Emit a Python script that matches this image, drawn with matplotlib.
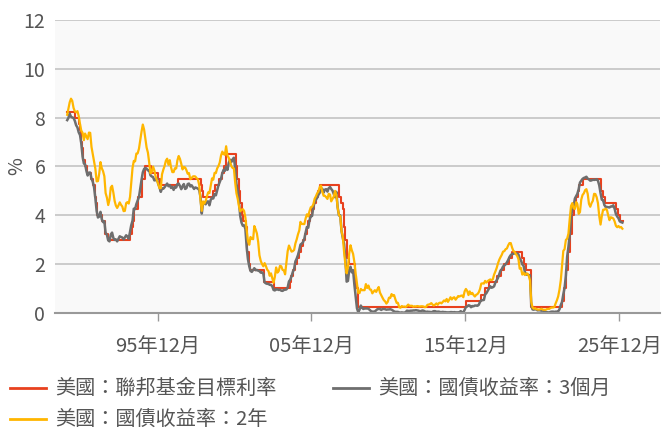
import matplotlib
matplotlib.use("Agg")
import matplotlib.pyplot as plt
from matplotlib.lines import Line2D
import pandas as pd
from datetime import datetime

plt.rcParams['font.family'] = ['Noto Sans CJK TC', 'DejaVu Sans']
plt.rcParams['font.weight'] = 300

# Fed funds target rate (upper bound): change date -> level
ff_dates = [
    '1990-01-01', '1990-07-13', '1990-10-29', '1990-11-13', '1990-12-07', '1990-12-19',
    '1991-01-09', '1991-02-01', '1991-03-08', '1991-04-30', '1991-08-06', '1991-09-13',
    '1991-10-31', '1991-11-06', '1991-12-06', '1991-12-20', '1992-04-09', '1992-07-02',
    '1992-09-04', '1994-02-04', '1994-03-22', '1994-04-18', '1994-05-17', '1994-08-16',
    '1994-11-15', '1995-02-01', '1995-07-06', '1995-12-19', '1996-01-31', '1997-03-25',
    '1998-09-29', '1998-10-15', '1998-11-17', '1999-06-30', '1999-08-24', '1999-11-16',
    '2000-02-02', '2000-03-21', '2000-05-16', '2001-01-03', '2001-01-31', '2001-03-20',
    '2001-04-18', '2001-05-15', '2001-06-27', '2001-08-21', '2001-09-17', '2001-10-02',
    '2001-11-06', '2001-12-11', '2002-11-06', '2003-06-25', '2004-06-30', '2004-08-10',
    '2004-09-21', '2004-11-10', '2004-12-14', '2005-02-02', '2005-03-22', '2005-05-03',
    '2005-06-30', '2005-08-09', '2005-09-20', '2005-11-01', '2005-12-13', '2006-01-31',
    '2006-03-28', '2006-05-10', '2006-06-29', '2007-09-18', '2007-10-31', '2007-12-11',
    '2008-01-22', '2008-01-30', '2008-03-18', '2008-04-30', '2008-10-08', '2008-10-29',
    '2008-12-16', '2015-12-17', '2016-12-15', '2017-03-16', '2017-06-15', '2017-12-14',
    '2018-03-22', '2018-06-14', '2018-09-27', '2018-12-20', '2019-08-01', '2019-09-19',
    '2019-10-31', '2020-03-04', '2020-03-16', '2022-03-17', '2022-05-05', '2022-06-16',
    '2022-07-28', '2022-09-22', '2022-11-03', '2022-12-15', '2023-02-02', '2023-03-23',
    '2023-05-04', '2023-07-27', '2024-09-19', '2024-11-08', '2024-12-19', '2025-09-18',
    '2025-10-30', '2025-12-11', '2026-02-27',
]
ff_rate = [
    8.25, 8.00, 7.75, 7.50, 7.25, 7.00,
    6.75, 6.25, 6.00, 5.75, 5.50, 5.25,
    5.00, 4.75, 4.50, 4.00, 3.75, 3.25,
    3.00, 3.25, 3.50, 3.75, 4.25, 4.75,
    5.50, 6.00, 5.75, 5.50, 5.25, 5.50,
    5.25, 5.00, 4.75, 5.00, 5.25, 5.50,
    5.75, 6.00, 6.50, 6.00, 5.50, 5.00,
    4.50, 4.00, 3.75, 3.50, 3.00, 2.50,
    2.00, 1.75, 1.25, 1.00, 1.25, 1.50,
    1.75, 2.00, 2.25, 2.50, 2.75, 3.00,
    3.25, 3.50, 3.75, 4.00, 4.25, 4.50,
    4.75, 5.00, 5.25, 4.75, 4.50, 4.25,
    3.50, 3.00, 2.25, 2.00, 1.50, 1.00,
    0.25, 0.50, 0.75, 1.00, 1.25, 1.50,
    1.75, 2.00, 2.25, 2.50, 2.25, 2.00,
    1.75, 1.25, 0.25, 0.50, 1.00, 1.75,
    2.50, 3.25, 4.00, 4.50, 4.75, 5.00,
    5.25, 5.50, 5.00, 4.75, 4.50, 4.25,
    4.00, 3.75, 3.75,
]

# monthly yields, Jan 1990 - Feb 2026 (one row per year)
t3m = [
    7.90, 8.00, 8.17, 8.04, 8.01, 7.99, 7.87, 7.69, 7.60, 7.40, 7.29, 6.95,
    6.41, 6.12, 6.09, 5.83, 5.63, 5.75, 5.75, 5.50, 5.37, 5.14, 4.69, 4.18,
    3.91, 3.95, 4.14, 3.84, 3.72, 3.75, 3.28, 3.20, 2.97, 2.93, 3.21, 3.29,
    3.07, 2.99, 3.01, 2.93, 3.03, 3.14, 3.11, 3.09, 3.01, 3.09, 3.18, 3.13,
    3.04, 3.33, 3.59, 3.78, 4.27, 4.25, 4.46, 4.61, 4.75, 5.10, 5.45, 5.76,
    5.90, 5.94, 5.91, 5.84, 5.85, 5.64, 5.59, 5.57, 5.43, 5.44, 5.52, 5.29,
    5.15, 4.96, 5.10, 5.09, 5.15, 5.23, 5.30, 5.19, 5.24, 5.12, 5.17, 5.04,
    5.17, 5.14, 5.28, 5.30, 5.20, 5.07, 5.19, 5.28, 5.08, 5.11, 5.28, 5.30,
    5.18, 5.23, 5.16, 5.08, 5.14, 5.12, 5.09, 5.04, 4.74, 4.07, 4.53, 4.50,
    4.45, 4.56, 4.57, 4.41, 4.63, 4.72, 4.69, 4.87, 4.82, 5.02, 5.23, 5.36,
    5.50, 5.73, 5.86, 5.82, 5.99, 5.86, 6.14, 6.28, 6.18, 6.29, 6.36, 5.94,
    5.29, 5.01, 4.54, 3.97, 3.70, 3.57, 3.59, 3.44, 2.69, 2.20, 1.91, 1.72,
    1.68, 1.76, 1.83, 1.75, 1.76, 1.73, 1.71, 1.65, 1.66, 1.61, 1.25, 1.21,
    1.19, 1.19, 1.15, 1.15, 1.09, 0.94, 0.92, 0.97, 0.96, 0.94, 0.95, 0.91,
    0.90, 0.94, 0.95, 0.96, 1.04, 1.29, 1.36, 1.50, 1.68, 1.79, 2.11, 2.22,
    2.37, 2.58, 2.80, 2.84, 2.90, 3.04, 3.29, 3.52, 3.49, 3.79, 3.97, 3.97,
    4.34, 4.54, 4.63, 4.72, 4.84, 4.92, 5.08, 5.09, 4.93, 5.05, 5.07, 4.97,
    5.11, 5.16, 5.08, 5.01, 4.87, 4.74, 4.96, 4.32, 3.99, 4.00, 3.35, 3.07,
    2.82, 2.17, 1.28, 1.31, 1.76, 1.89, 1.66, 1.75, 1.15, 0.69, 0.19, 0.03,
    0.13, 0.30, 0.21, 0.16, 0.18, 0.18, 0.18, 0.17, 0.12, 0.07, 0.05, 0.05,
    0.06, 0.11, 0.15, 0.16, 0.16, 0.12, 0.16, 0.16, 0.15, 0.13, 0.14, 0.14,
    0.15, 0.13, 0.10, 0.06, 0.04, 0.04, 0.04, 0.02, 0.01, 0.02, 0.01, 0.01,
    0.03, 0.09, 0.08, 0.08, 0.09, 0.09, 0.10, 0.10, 0.11, 0.10, 0.09, 0.07,
    0.07, 0.10, 0.09, 0.06, 0.04, 0.05, 0.04, 0.04, 0.02, 0.05, 0.07, 0.07,
    0.04, 0.05, 0.05, 0.03, 0.03, 0.04, 0.03, 0.03, 0.02, 0.02, 0.02, 0.03,
    0.03, 0.02, 0.03, 0.02, 0.02, 0.02, 0.03, 0.07, 0.02, 0.02, 0.12, 0.24,
    0.26, 0.31, 0.30, 0.23, 0.28, 0.27, 0.30, 0.30, 0.29, 0.33, 0.45, 0.51,
    0.52, 0.53, 0.75, 0.81, 0.90, 1.00, 1.09, 1.03, 1.05, 1.09, 1.25, 1.34,
    1.43, 1.59, 1.73, 1.79, 1.90, 1.94, 1.99, 2.07, 2.17, 2.29, 2.37, 2.41,
    2.42, 2.44, 2.45, 2.43, 2.40, 2.22, 2.15, 1.99, 1.93, 1.68, 1.57, 1.57,
    1.55, 1.54, 0.30, 0.14, 0.13, 0.16, 0.13, 0.10, 0.11, 0.10, 0.09, 0.09,
    0.08, 0.04, 0.03, 0.02, 0.02, 0.04, 0.05, 0.05, 0.04, 0.05, 0.05, 0.06,
    0.15, 0.33, 0.44, 0.76, 1.02, 1.52, 2.30, 2.71, 3.22, 3.87, 4.32, 4.36,
    4.69, 4.79, 4.88, 5.07, 5.34, 5.42, 5.49, 5.53, 5.55, 5.58, 5.50, 5.47,
    5.42, 5.43, 5.46, 5.45, 5.46, 5.48, 5.42, 5.23, 4.91, 4.64, 4.62, 4.42,
    4.34, 4.34, 4.33, 4.32, 4.36, 4.36, 4.41, 4.27, 4.05, 3.95, 3.88, 3.75,
    3.72, 3.70,
]

t2y = [
    8.12, 8.39, 8.63, 8.78, 8.69, 8.40, 8.26, 8.22, 8.27, 8.07, 7.74, 7.47,
    7.38, 7.08, 7.35, 7.23, 7.12, 7.39, 7.38, 6.80, 6.50, 6.23, 5.90, 5.39,
    5.40, 5.72, 6.18, 5.93, 5.81, 5.60, 4.91, 4.72, 4.42, 4.64, 5.14, 5.21,
    4.93, 4.58, 4.40, 4.30, 4.40, 4.53, 4.43, 4.36, 4.17, 4.18, 4.50, 4.54,
    4.48, 4.76, 5.30, 5.94, 6.23, 6.21, 6.53, 6.54, 6.73, 7.07, 7.43, 7.72,
    7.51, 7.11, 6.78, 6.57, 6.17, 5.72, 5.78, 6.00, 5.84, 5.59, 5.43, 5.29,
    5.11, 5.11, 5.68, 5.87, 6.02, 6.24, 6.32, 6.07, 6.26, 5.97, 5.77, 5.77,
    5.93, 5.92, 6.25, 6.43, 6.31, 6.11, 5.88, 5.98, 5.96, 5.85, 5.70, 5.73,
    5.48, 5.52, 5.59, 5.60, 5.59, 5.52, 5.47, 5.24, 4.62, 4.18, 4.57, 4.48,
    4.59, 4.77, 4.94, 4.91, 5.21, 5.51, 5.46, 5.74, 5.73, 5.92, 6.02, 6.16,
    6.45, 6.61, 6.51, 6.48, 6.83, 6.45, 6.36, 6.20, 6.02, 5.94, 5.92, 5.36,
    4.90, 4.67, 4.38, 4.16, 4.23, 4.25, 4.18, 3.91, 3.39, 2.94, 2.79, 3.11,
    3.04, 3.02, 3.56, 3.42, 3.26, 2.91, 2.36, 2.13, 2.00, 1.91, 2.04, 1.92,
    1.77, 1.71, 1.52, 1.62, 1.42, 1.23, 1.47, 1.86, 1.65, 1.71, 1.93, 1.91,
    1.76, 1.74, 1.58, 2.07, 2.53, 2.76, 2.64, 2.51, 2.53, 2.58, 2.85, 3.01,
    3.22, 3.38, 3.73, 3.65, 3.64, 3.64, 3.87, 4.04, 3.95, 4.17, 4.33, 4.35,
    4.45, 4.68, 4.77, 4.90, 4.97, 5.16, 5.22, 4.97, 4.80, 4.80, 4.74, 4.67,
    4.88, 4.85, 4.57, 4.67, 4.77, 5.00, 4.82, 4.31, 4.01, 3.97, 3.34, 3.12,
    2.48, 1.97, 1.62, 1.87, 2.43, 2.77, 2.57, 2.42, 2.08, 1.61, 1.21, 0.82,
    0.81, 0.98, 0.93, 0.93, 0.93, 1.18, 1.02, 1.12, 0.96, 0.95, 0.80, 0.87,
    0.93, 0.86, 0.96, 1.06, 0.83, 0.72, 0.62, 0.52, 0.47, 0.38, 0.45, 0.62,
    0.61, 0.77, 0.70, 0.73, 0.56, 0.41, 0.41, 0.23, 0.21, 0.28, 0.25, 0.26,
    0.24, 0.28, 0.34, 0.29, 0.29, 0.29, 0.25, 0.27, 0.26, 0.28, 0.27, 0.26,
    0.27, 0.27, 0.26, 0.23, 0.25, 0.33, 0.34, 0.36, 0.40, 0.34, 0.30, 0.34,
    0.39, 0.33, 0.40, 0.42, 0.39, 0.45, 0.51, 0.47, 0.57, 0.45, 0.54, 0.64,
    0.55, 0.62, 0.64, 0.54, 0.61, 0.69, 0.67, 0.70, 0.71, 0.64, 0.88, 0.98,
    0.90, 0.73, 0.88, 0.77, 0.82, 0.73, 0.67, 0.74, 0.77, 0.84, 0.98, 1.20,
    1.21, 1.20, 1.31, 1.24, 1.30, 1.34, 1.37, 1.34, 1.38, 1.57, 1.70, 1.84,
    2.03, 2.18, 2.28, 2.38, 2.51, 2.53, 2.61, 2.64, 2.77, 2.86, 2.86, 2.68,
    2.54, 2.50, 2.41, 2.34, 2.21, 1.81, 1.84, 1.57, 1.65, 1.55, 1.61, 1.61,
    1.52, 1.33, 0.45, 0.22, 0.17, 0.19, 0.15, 0.14, 0.13, 0.15, 0.17, 0.13,
    0.13, 0.12, 0.15, 0.16, 0.16, 0.20, 0.22, 0.22, 0.24, 0.39, 0.52, 0.68,
    0.96, 1.35, 1.91, 2.54, 2.61, 2.99, 3.04, 3.25, 3.86, 4.38, 4.50, 4.29,
    4.26, 4.54, 4.46, 4.06, 4.13, 4.64, 4.83, 4.90, 5.03, 5.07, 4.88, 4.47,
    4.35, 4.50, 4.59, 4.88, 4.87, 4.74, 4.50, 3.97, 3.62, 3.97, 4.23, 4.23,
    4.27, 4.21, 4.00, 3.80, 3.92, 3.90, 3.87, 3.75, 3.57, 3.51, 3.56, 3.50,
    3.52, 3.45,
]

tick_dates = ['1995-12-01', '2005-12-01', '2015-12-01', '2025-12-01']
tick_labels = ['95年12月', '05年12月', '15年12月', '25年12月']
y_ticks = [0, 2, 4, 6, 8, 10, 12]

labels = ['美國：聯邦基金目標利率', '美國：國債收益率：3個月', '美國：國債收益率：2年']
colors = ['#E8411E', '#6E6E6E', '#FFB600']

months = pd.date_range('1990-01-01', periods=len(t3m), freq='MS') + pd.Timedelta(days=14)
ff_x = pd.to_datetime(ff_dates)

fig = plt.figure(figsize=(6.63, 4.28), dpi=100)
ax = fig.add_axes([0.083, 0.269, 0.912, 0.684])
ax.set_facecolor('#F9F9F9')

ax.plot(ff_x, ff_rate, drawstyle='steps-post', color=colors[0], lw=1.5, zorder=3)
ax.plot(months, t3m, color=colors[1], lw=1.8, zorder=4)
ax.plot(months, t2y, color=colors[2], lw=1.6, zorder=5)

ax.set_ylim(0, 12)
ax.set_yticks(y_ticks)
ax.set_xlim(datetime(1989, 4, 1), datetime(2028, 7, 20))
ax.set_xticks(pd.to_datetime(tick_dates))
ax.set_xticklabels(tick_labels)

ax.grid(axis='y', color='#C4C4C4', lw=1.2, zorder=1)
ax.set_axisbelow(True)
for s in ['top', 'right', 'left']:
    ax.spines[s].set_visible(False)
ax.spines['bottom'].set_color('#999999')
ax.spines['bottom'].set_linewidth(1.5)
ax.spines['bottom'].set_zorder(6)

ax.tick_params(axis='y', length=0, pad=7, labelsize=14, labelcolor='#555555')
ax.tick_params(axis='x', length=6, width=1, color='#999999', pad=11,
               labelsize=14.5, labelcolor='#555555')
ax.set_ylabel('%', fontsize=14, color='#555555')
ax.yaxis.set_label_coords(-0.046, 0.5)

# legend, placed by hand
leg = [(10, 388, 0), (333, 388, 1), (10, 419, 2)]
W, H = 663.0, 428.0
for px, py, i in leg:
    y = 1 - py / H
    fig.add_artist(Line2D([px / W, (px + 36) / W], [y, y], color=colors[i], lw=2))
    fig.text((px + 45) / W, y, labels[i], fontsize=14.5, color='#555555', va='center', ha='left')

fig.savefig('out.png', dpi=100)
